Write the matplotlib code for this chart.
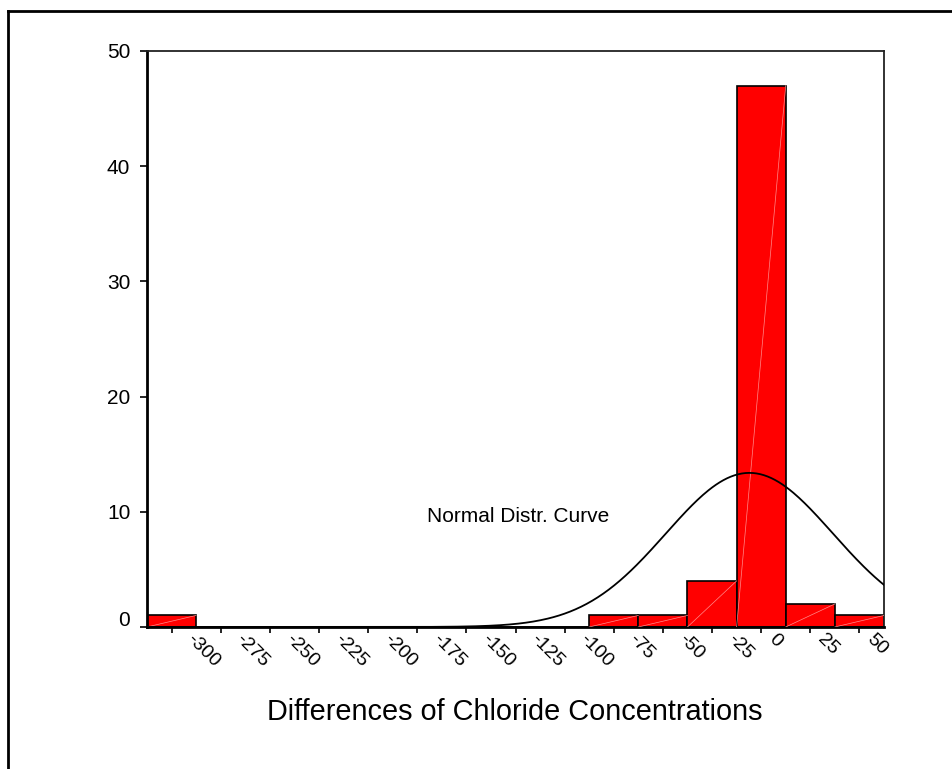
# Histogram of chloride concentration differences with a normal curve on top

import matplotlib
matplotlib.use("Agg")
import matplotlib.pyplot as plt
from matplotlib.lines import Line2D
from matplotlib.transforms import ScaledTranslation
import numpy as np

plt.rcParams['font.family'] = ['Liberation Sans', 'DejaVu Sans']

bin_centers = [-300, -275, -250, -225, -200, -175, -150, -125, -100, -75, -50, -25, 0, 25, 50]
counts = [1, 0, 0, 0, 0, 0, 0, 0, 0, 1, 1, 4, 47, 2, 1]
tick_labels = ["-300", "-275", "-250", "-225", "-200", "-175", "-150", "-125",
               "-100", "-75", "-50", "-25", "0", "25", "50"]
y_ticks = [0, 10, 20, 30, 40, 50]

# normal curve parameters
bin_width = 25
n_cases = 57
curve_mean = -6.0
curve_sd = 42.5

fig = plt.figure(figsize=(9.52, 7.69), dpi=100)
ax = fig.add_axes([0.1544, 0.1847, 0.7742, 0.749])

ax.bar(bin_centers, counts, width=bin_width, color='#ff0000', edgecolor='black',
       linewidth=1.2, zorder=2)

# faint diagonal streak inside each bar, as in the original render
for c, h in zip(bin_centers, counts):
    if h > 0:
        ax.plot([c - bin_width / 2, c + bin_width / 2], [0, h], color='#ff8c8c',
                linewidth=0.5, zorder=3)

xs = np.linspace(bin_centers[0] - bin_width / 2, bin_centers[-1] + bin_width / 2, 400)
ys = n_cases * bin_width / (curve_sd * np.sqrt(2 * np.pi)) * np.exp(-0.5 * ((xs - curve_mean) / curve_sd) ** 2)
ax.plot(xs, ys, color='black', linewidth=1.3, zorder=4)

ax.text(-170, 9.6, "Normal Distr. Curve", fontsize=15, va='center', ha='left')

ax.set_xlim(bin_centers[0] - bin_width / 2, bin_centers[-1] + bin_width / 2)
ax.set_ylim(0, 50)

ax.set_xticks(bin_centers)
ax.tick_params(axis='x', direction='out', length=4, width=1.2, pad=5)
ax.set_xticklabels(tick_labels, rotation=-45, ha='left', va='center',
                   rotation_mode='anchor', fontsize=14)
# labels start a bit to the right of their ticks (wider shift for negatives)
for lab in ax.get_xticklabels():
    dx = 18 if lab.get_text().startswith('-') else 10
    lab.set_transform(lab.get_transform() + ScaledTranslation(dx / 100, 3 / 100, fig.dpi_scale_trans))

ax.set_yticks(y_ticks)
ax.tick_params(axis='y', direction='out', length=5, width=1.2, pad=7)
ax.set_yticklabels([str(v) for v in y_ticks], fontsize=15)
# the zero label sits a little above its tick in the original
zero_lab = ax.get_yticklabels()[0]
zero_lab.set_transform(zero_lab.get_transform() + ScaledTranslation(0, 8 / 100, fig.dpi_scale_trans))

for side in ['left', 'bottom']:
    ax.spines[side].set_linewidth(2)
for side in ['top', 'right']:
    ax.spines[side].set_linewidth(1.3)
    ax.spines[side].set_color('#222222')

fig.text(0.541, 1 - 712 / 769, "Differences of Chloride Concentrations",
         fontsize=20.8, ha='center', va='center')

# outer frame (top and left edges only)
fig.add_artist(Line2D([7.5 / 952, 1.0], [1 - 11 / 769, 1 - 11 / 769], color='black',
                      linewidth=2, transform=fig.transFigure))
fig.add_artist(Line2D([7.5 / 952, 7.5 / 952], [0.0, 1 - 11 / 769], color='black',
                      linewidth=2, transform=fig.transFigure))

fig.savefig("out.png", dpi=100)
